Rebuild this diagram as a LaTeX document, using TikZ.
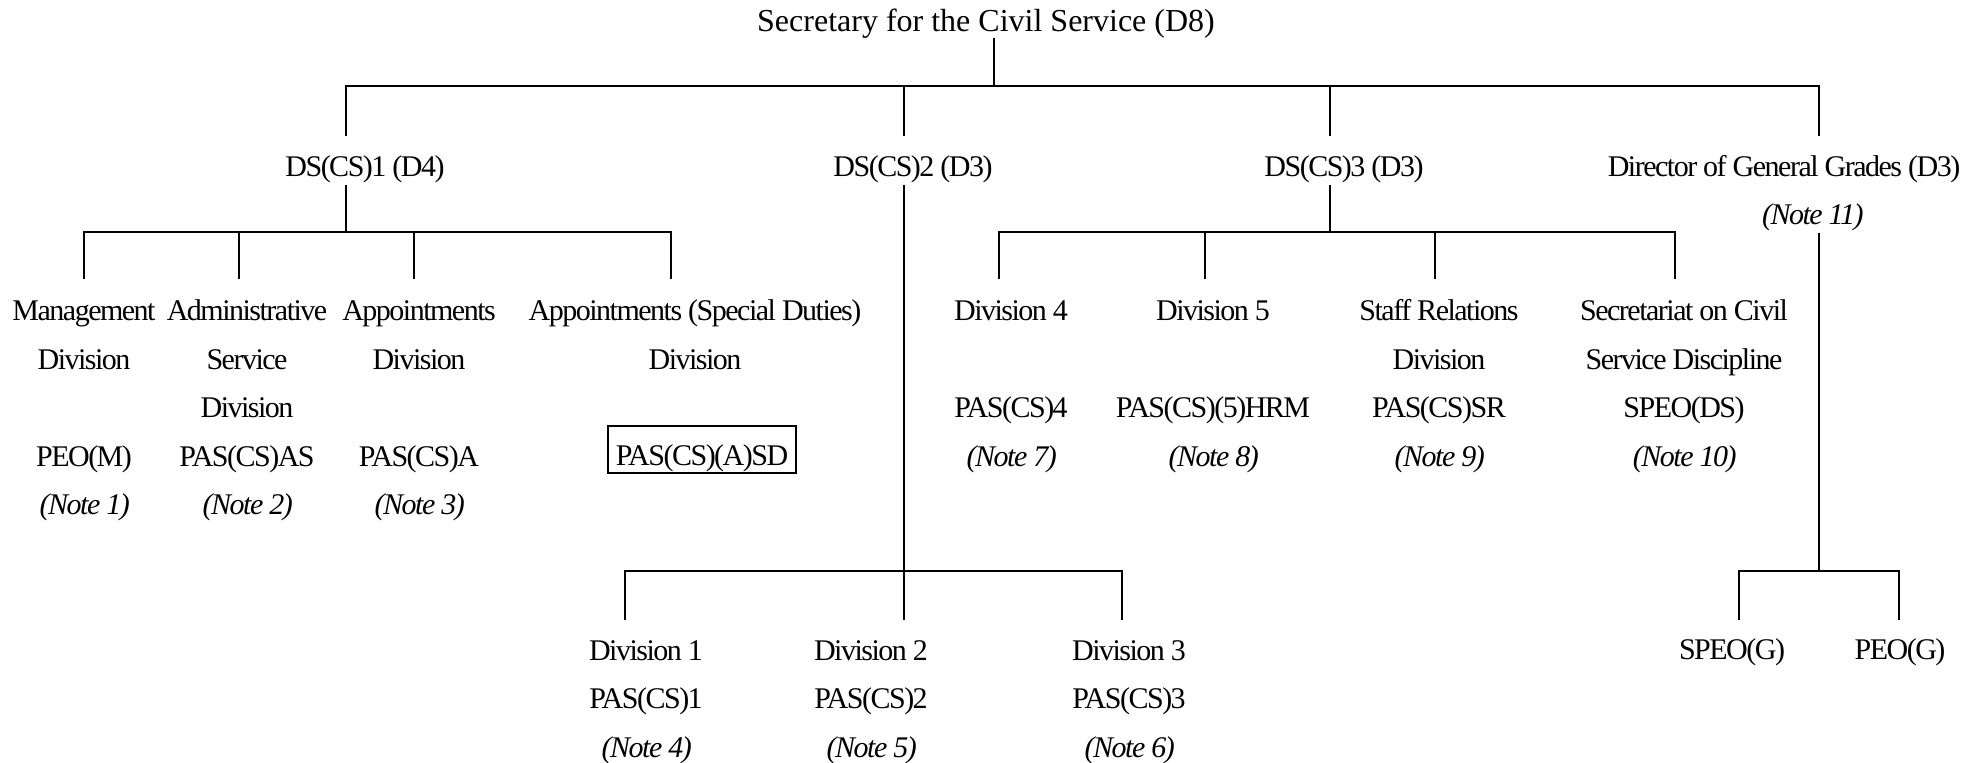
\documentclass[tikz,border=0pt]{standalone}
\usepackage{fontspec}
\setmainfont{Liberation Serif}
\newfontfamily\tightfont[LetterSpace=-5]{Liberation Serif}

\begin{document}
\begin{tikzpicture}[x=0.5pt, y=-0.5pt, line width=0.8pt,
	head/.style = {font=\fontsize{16}{20}\selectfont, anchor=base, inner sep=0pt},
	unit/.style = {font=\tightfont\fontsize{15}{24.25}\selectfont, align=center, anchor=base, inner sep=0pt},
	postbox/.style = {draw, line width=1pt, font=\tightfont\fontsize{15}{24.25}\selectfont, anchor=base,
		inner sep=0pt, minimum width=94pt, text height=20pt, text depth=3.5pt}]
	\useasboundingbox (0,0) rectangle (1975,763);

	% nodes sit on the baseline of their last line
	\node[head] (sec) at (986,32) {Secretary for the Civil Service (D8)};

	\node[unit] (ds1) at (365,177) {DS(CS)1 (D4)};
	\node[unit] (ds2) at (913,177) {DS(CS)2 (D3)};
	\node[unit] (ds3) at (1344,177) {DS(CS)3 (D3)};
	\node[unit] (dgg) at (1784,177) {Director of General Grades (D3)};
	\node[unit] (dggnote) at (1812,225) {\textit{(Note 11)}};

	\node[unit] (mgmt) at (84,515) {Management\\Division\\[24.25pt]PEO(M)\\\textit{(Note 1)}};
	\node[unit] (asd) at (247,515) {Administrative\\Service\\Division\\PAS(CS)AS\\\textit{(Note 2)}};
	\node[unit] (appt) at (419,515) {Appointments\\Division\\[24.25pt]PAS(CS)A\\\textit{(Note 3)}};
	\node[unit] (apsd) at (695,369.5) {Appointments (Special Duties)\\Division};
	\node[postbox] (apsdpost) at (702,466) {PAS(CS)(A)SD};

	\node[unit] (div4) at (1011,466.5) {Division 4\\[24.25pt]PAS(CS)4\\\textit{(Note 7)}};
	\node[unit] (div5) at (1213,466.5) {Division 5\\[24.25pt]PAS(CS)(5)HRM\\\textit{(Note 8)}};
	\node[unit] (sr) at (1439,466.5) {Staff Relations\\Division\\PAS(CS)SR\\\textit{(Note 9)}};
	\node[unit] (scsd) at (1684,466.5) {Secretariat on Civil\\Service Discipline\\SPEO(DS)\\\textit{(Note 10)}};

	\node[unit] (div1) at (646,757) {Division 1\\PAS(CS)1\\\textit{(Note 4)}};
	\node[unit] (div2) at (871,757) {Division 2\\PAS(CS)2\\\textit{(Note 5)}};
	\node[unit] (div3) at (1129,757) {Division 3\\PAS(CS)3\\\textit{(Note 6)}};
	\node[unit] (speog) at (1732,660) {SPEO(G)};
	\node[unit] (peog) at (1900,660) {PEO(G)};

	% line ends
	\coordinate (sec-out) at (994,38);
	\coordinate (top-bus) at (994,86);
	\coordinate (ds1-in) at (346,136);
	\coordinate (ds2-in) at (904,136);
	\coordinate (ds3-in) at (1330,136);
	\coordinate (dgg-in) at (1819,136);
	\coordinate (ds1-out) at (346,185);
	\coordinate (ds2-out) at (904,185);
	\coordinate (ds3-out) at (1330,185);
	\coordinate (dgg-out) at (1819,233);
	\coordinate (ds1-bus) at (346,232);
	\coordinate (ds2-bus) at (904,571);
	\coordinate (ds3-bus) at (1330,232);
	\coordinate (dgg-bus) at (1819,571);
	\coordinate (mgmt-in) at (84,279);
	\coordinate (asd-in) at (239,279);
	\coordinate (appt-in) at (414,279);
	\coordinate (apsd-in) at (671,279);
	\coordinate (div4-in) at (999,279);
	\coordinate (div5-in) at (1205,279);
	\coordinate (sr-in) at (1435,279);
	\coordinate (scsd-in) at (1675,279);
	\coordinate (div1-in) at (625,620);
	\coordinate (div2-in) at (904,620);
	\coordinate (div3-in) at (1122,620);
	\coordinate (speog-in) at (1739,620);
	\coordinate (peog-in) at (1899,620);

	\draw (sec-out) -- (top-bus);
	\draw (ds1-in) |- (top-bus) -| (dgg-in);
	\foreach \u in {ds2,ds3} \draw (\u-in |- top-bus) -- (\u-in);

	\draw (ds1-out) -- (ds1-bus);
	\draw (mgmt-in) |- (ds1-bus) -| (apsd-in);
	\foreach \u in {asd,appt} \draw (\u-in |- ds1-bus) -- (\u-in);

	\draw (ds2-out) -- (div2-in);
	\draw (div1-in) |- (ds2-bus) -| (div3-in);

	\draw (ds3-out) -- (ds3-bus);
	\draw (div4-in) |- (ds3-bus) -| (scsd-in);
	\foreach \u in {div5,sr} \draw (\u-in |- ds3-bus) -- (\u-in);

	\draw (dgg-out) -- (dgg-bus);
	\draw (speog-in) |- (dgg-bus) -| (peog-in);
\end{tikzpicture}
\end{document}
